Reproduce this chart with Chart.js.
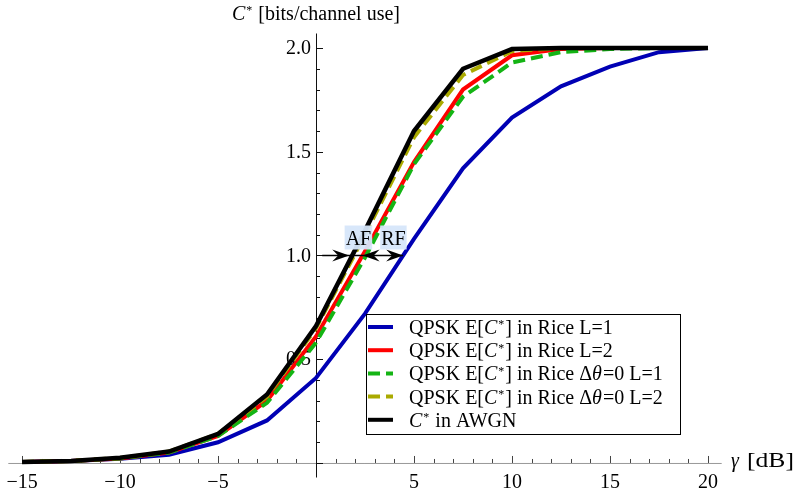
<!DOCTYPE html>
<html><head><meta charset="utf-8">
<script src="https://cdn.jsdelivr.net/npm/chart.js@4"></script>
<style>html,body{margin:0;padding:0;background:#fff}#wrap{width:797px;height:493px}</style>
</head><body><div id="wrap"><canvas id="c" width="797" height="493"></canvas></div>
<script>
// ---- data ----
const gammaDb = [-15,-12.5,-10,-7.5,-5,-2.5,0,2.5,5,7.5,10,12.5,15,17.5,20];
const riceL1 = [0.005,0.01,0.02,0.04,0.10,0.205,0.41,0.72,1.08,1.42,1.665,1.815,1.91,1.98,2.0];
const riceL2 = [0.005,0.01,0.022,0.05,0.13,0.30,0.61,1.02,1.45,1.80,1.965,1.995,2.0,2.0,2.0];
const riceD0L1 = [0.005,0.01,0.022,0.05,0.13,0.29,0.58,0.99,1.44,1.765,1.93,1.98,1.995,2.0,2.0];
const riceD0L2 = [0.005,0.01,0.024,0.055,0.14,0.32,0.65,1.10,1.57,1.87,1.985,2.0,2.0,2.0,2.0];
const awgn = [0.005,0.01,0.025,0.055,0.14,0.33,0.66,1.12,1.60,1.90,1.995,2.0,2.0,2.0,2.0];
const xMajorTicks = [-15,-10,-5,5,10,15,20];
const yMajorTicks = [0.5,1.0,1.5,2.0];
const labels = ["QPSK E[C*] in Rice L=1","QPSK E[C*] in Rice L=2","QPSK E[C*] in Rice \u0394\u03b8=0 L=1","QPSK E[C*] in Rice \u0394\u03b8=0 L=2","C* in AWGN"];

const SERIF = '"Liberation Serif","Times New Roman",serif';
const FS = 20;
const colors = ['#0000b4','#ff0000','#14b414','#aaaa00','#000000'];
const dashes = [[],[],[12,6],[12,6],[]];
const series = [riceL1, riceL2, riceD0L1, riceD0L2, awgn];

const richLabels = [
  [['QPSK E[','n'],['C','i'],['*','s'],['] in Rice L=1','n']],
  [['QPSK E[','n'],['C','i'],['*','s'],['] in Rice L=2','n']],
  [['QPSK E[','n'],['C','i'],['*','s'],['] in Rice \u0394','n'],['\u03b8','i'],['=0 L=1','n']],
  [['QPSK E[','n'],['C','i'],['*','s'],['] in Rice \u0394','n'],['\u03b8','i'],['=0 L=2','n']],
  [['C','i'],['*','s'],[' in AWGN','n']]
];

function drawRich(ctx, segs, x, y, size){
  ctx.textBaseline = 'alphabetic';
  ctx.textAlign = 'left';
  for (const [t, k] of segs){
    if (k === 's'){
      ctx.font = `${Math.round(size*0.62)}px ${SERIF}`;
      ctx.fillText(t, x, y - size*0.28);
      x += ctx.measureText(t).width + 1;
    } else {
      ctx.font = (k === 'i' ? 'italic ' : '') + `${size}px ${SERIF}`;
      ctx.fillText(t, x, y);
      x += ctx.measureText(t).width + (k === 'i' ? 1 : 0);
    }
  }
  return x;
}

function crossing(arr, level){
  for (let i=1;i<arr.length;i++){
    if (arr[i-1] < level && arr[i] >= level){
      const f = (level - arr[i-1])/(arr[i]-arr[i-1]);
      return gammaDb[i-1] + f*(gammaDb[i]-gammaDb[i-1]);
    }
  }
  return null;
}

function dart(ctx, tx, ty, dir){
  const L = 17, W = 6;
  ctx.beginPath();
  ctx.moveTo(tx, ty);
  ctx.lineTo(tx - dir*L, ty - W);
  ctx.lineTo(tx - dir*L*0.65, ty);
  ctx.lineTo(tx - dir*L, ty + W);
  ctx.closePath();
  ctx.fill();
}

const axesPlugin = {
  id: 'mmaAxes',
  beforeDatasetsDraw(chart){
    const ctx = chart.ctx, xs = chart.scales.x, ys = chart.scales.y;
    const x0 = xs.getPixelForValue(0), y0 = ys.getPixelForValue(0);
    const ca = chart.chartArea;
    ctx.save();
    ctx.strokeStyle = '#999'; ctx.lineWidth = 1;
    ctx.beginPath(); ctx.moveTo(ca.left, y0+0.5); ctx.lineTo(ca.right, y0+0.5); ctx.stroke();
    ctx.strokeStyle = '#444';
    for (let v = -15; v <= 20; v++){
      if (v === 0) continue;
      const p = Math.round(xs.getPixelForValue(v)) + 0.5;
      const len = (v % 5 === 0) ? 7 : 4;
      ctx.beginPath(); ctx.moveTo(p, y0); ctx.lineTo(p, y0 - len); ctx.stroke();
    }
    ctx.strokeStyle = '#111';
    ctx.beginPath(); ctx.moveTo(x0+0.5, ca.top); ctx.lineTo(x0+0.5, ca.bottom); ctx.stroke();
    for (let k = 0; k <= 20; k++){
      const v = k/10;
      const p = Math.round(ys.getPixelForValue(v)) + 0.5;
      const len = (k % 5 === 0) ? 7 : 4;
      ctx.beginPath(); ctx.moveTo(x0, p); ctx.lineTo(x0 + len, p); ctx.stroke();
    }
    ctx.fillStyle = '#000';
    ctx.font = `${FS}px ${SERIF}`;
    ctx.textAlign = 'center'; ctx.textBaseline = 'middle';
    for (const v of xMajorTicks){
      const t = v < 0 ? '\u2212' + Math.abs(v) : String(v);
      ctx.fillText(t, xs.getPixelForValue(v), y0 + 20);
    }
    ctx.textAlign = 'right';
    for (const v of yMajorTicks){
      ctx.fillText(v.toFixed(1), x0 - 5, ys.getPixelForValue(v) + 1);
    }
    drawRich(ctx, [['C','i'],['*','s'],[' [bits/channel use]','n']], 232, 20, FS);
    ctx.font = `italic ${FS}px ${SERIF}`;
    ctx.textAlign = 'left'; ctx.textBaseline = 'alphabetic';
    ctx.fillText('\u03b3', 731, 467);
    ctx.save();
    ctx.translate(747, 467); ctx.scale(1.28, 1);
    ctx.font = `${FS}px ${SERIF}`;
    ctx.fillText('[dB]', 0, 0);
    ctx.restore();
    ctx.restore();
  },
  afterDatasetsDraw(chart){
    const ctx = chart.ctx, xs = chart.scales.x, ys = chart.scales.y;
    ctx.save();
    const yl = ys.getPixelForValue(1.0);
    const xAW = xs.getPixelForValue(crossing(awgn, 1.0));
    const xR2 = xs.getPixelForValue(crossing(riceL2, 1.0));
    const xR1 = xs.getPixelForValue(crossing(riceL1, 1.0));
    ctx.strokeStyle = '#000'; ctx.fillStyle = '#000'; ctx.lineWidth = 1.5;
    ctx.beginPath(); ctx.moveTo(xAW - 30, yl); ctx.lineTo(xR1, yl); ctx.stroke();
    dart(ctx, xAW - 3, yl, 1);
    dart(ctx, xR2, yl, -1);
    dart(ctx, xR1, yl, 1);
    const afC = (xAW + xR2)/2 + 1, rfC = afC + 35;
    ctx.font = `${FS}px ${SERIF}`;
    for (const [t, c] of [['AF', afC], ['RF', rfC]]){
      const w = ctx.measureText(t).width + 2;
      ctx.fillStyle = 'rgba(214,230,250,0.95)';
      ctx.fillRect(c - w/2, yl - 30, w, 24);
      ctx.fillStyle = '#000';
      ctx.textAlign = 'center'; ctx.textBaseline = 'alphabetic';
      ctx.fillText(t, c, yl - 11);
    }
    const lx = 366, ly = 314, lw = 314, lh = 120;
    ctx.fillStyle = '#fff'; ctx.fillRect(lx, ly, lw, lh);
    ctx.strokeStyle = '#000'; ctx.lineWidth = 1;
    ctx.strokeRect(lx + 0.5, ly + 0.5, lw, lh);
    chart.data.datasets.forEach((ds, i) => {
      const cy = ly + 13 + i*23.2;
      ctx.strokeStyle = ds.borderColor; ctx.lineWidth = 4;
      ctx.setLineDash(ds.borderDash || []);
      ctx.beginPath(); ctx.moveTo(lx + 2, cy); ctx.lineTo(lx + 27, cy); ctx.stroke();
      ctx.setLineDash([]);
      ctx.fillStyle = '#000';
      drawRich(ctx, richLabels[i], lx + 43, cy + 7, FS);
    });
    ctx.restore();
  }
};

new Chart(document.getElementById('c'), {
  type: 'line',
  data: {
    datasets: series.map((arr, i) => ({
      label: labels[i],
      data: gammaDb.map((g, j) => ({x: g, y: arr[j]})),
      borderColor: colors[i],
      backgroundColor: colors[i],
      borderWidth: i === 4 ? 4.5 : 4,
      borderDash: dashes[i],
      pointRadius: 0,
      tension: 0,
      fill: false,
      order: 5 - i,
      clip: false
    }))
  },
  options: {
    responsive: false,
    animation: false,
    devicePixelRatio: 1,
    layout: { padding: { left: 8.3, right: 75.3, top: 33.5, bottom: 15.5 } },
    plugins: { legend: { display: false }, tooltip: { enabled: false }, title: { display: false } },
    scales: {
      x: { type: 'linear', min: -15.7, max: 20.7, display: false },
      y: { type: 'linear', min: -0.07, max: 2.07, display: false }
    }
  },
  plugins: [axesPlugin]
});
</script>
</body></html>
